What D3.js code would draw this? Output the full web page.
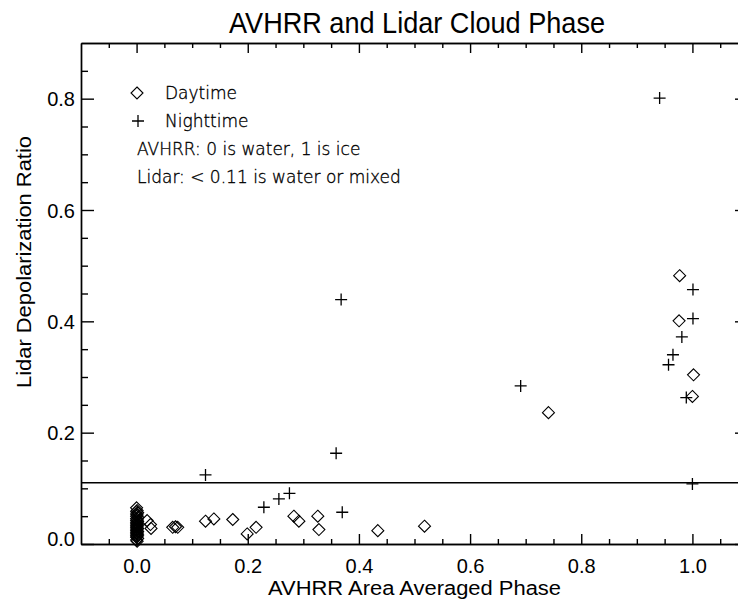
<!DOCTYPE html>
<html>
<head>
<meta charset="utf-8">
<script src="https://cdn.jsdelivr.net/npm/d3@7"></script>
<style>
  body { margin: 0; background: #fff; }
  svg { display: block; }
  .axis path, .axis line { stroke: #000; stroke-width: 1.4; }
  .axis text { font-family: "Liberation Sans", Arial, sans-serif; font-size: 20px; fill: #000; }
</style>
</head>
<body>
<svg id="chart" width="738" height="599"></svg>
<script>
// daytime points (diamonds)
var dayX = [0.977, 0.976, 1.002, 1.000, 0.741,
  0.000, 0.001, 0.000, 0.002, 0.000, 0.001, 0.000, 0.002, 0.000, 0.001,
  0.000, 0.002, 0.000, 0.001, 0.000, 0.002, 0.000, 0.001, 0.000, 0.002,
  0.000, 0.001, 0.000, 0.002, 0.000, 0.001, 0.000, 0.002, 0.000, 0.001,
  0.000, 0.002, 0.000, 0.001,
  0.019, 0.025, 0.026, 0.065, 0.070, 0.074, 0.124, 0.139, 0.173, 0.199, 0.215,
  0.283, 0.292, 0.326, 0.328, 0.434, 0.518];
var dayY = [0.482, 0.401, 0.304, 0.265, 0.236,
  0.065, 0.060, 0.058, 0.056, 0.054, 0.052, 0.050, 0.048, 0.046, 0.044,
  0.042, 0.041, 0.039, 0.037, 0.036, 0.034, 0.033, 0.031, 0.030, 0.028,
  0.027, 0.025, 0.024, 0.022, 0.021, 0.019, 0.018, 0.016, 0.015, 0.013,
  0.012, 0.010, 0.007, 0.005,
  0.042, 0.035, 0.028, 0.030, 0.031, 0.030, 0.041, 0.045, 0.044, 0.018, 0.030,
  0.050, 0.041, 0.050, 0.026, 0.024, 0.032];

// nighttime points (plus signs)
var nightX = [0.941, 0.368, 1.001, 1.001, 0.981, 0.965, 0.957, 0.989, 0.691,
  0.359, 0.124, 1.000, 0.229, 0.256, 0.275, 0.370];
var nightY = [0.801, 0.439, 0.457, 0.405, 0.372, 0.340, 0.322, 0.263, 0.284,
  0.163, 0.124, 0.108, 0.066, 0.081, 0.091, 0.057];

var lidarLimit = 0.11;

var xMajor = [0.0, 0.2, 0.4, 0.6, 0.8, 1.0];
var xMinor = [-0.05, 0.05, 0.1, 0.15, 0.25, 0.3, 0.35, 0.45, 0.5, 0.55, 0.65, 0.7, 0.75, 0.85, 0.9, 0.95, 1.05];
var yMajor = [0.0, 0.2, 0.4, 0.6, 0.8];
var yMinor = [0.05, 0.1, 0.15, 0.25, 0.3, 0.35, 0.45, 0.5, 0.55, 0.65, 0.7, 0.75, 0.85];

var legendLines = ["AVHRR: 0 is water, 1 is ice", "Lidar: < 0.11 is water or mixed"];

var svg = d3.select("#chart"),
    margin = {top: 43, left: 81},
    width = 667,
    height = 501;

var x = d3.scaleLinear().domain([-0.1, 1.1]).range([0, width]),
    y = d3.scaleLinear().domain([0, 0.9]).range([height, 0]);

var g = svg.append("g")
    .attr("transform", "translate(" + margin.left + "," + margin.top + ")");

var fmt = d3.format(".1f");

// bottom axis
g.append("g").attr("class", "axis")
    .attr("transform", "translate(0," + height + ")")
    .call(d3.axisBottom(x).tickValues(xMajor).tickSizeInner(-10).tickSizeOuter(0).tickPadding(15).tickFormat(fmt));
g.append("g").attr("class", "axis")
    .attr("transform", "translate(0," + height + ")")
    .call(d3.axisBottom(x).tickValues(xMinor).tickSizeInner(-5).tickSizeOuter(0).tickFormat(""));

// top axis
g.append("g").attr("class", "axis")
    .call(d3.axisTop(x).tickValues(xMajor).tickSizeInner(-10).tickSizeOuter(0).tickFormat(""));
g.append("g").attr("class", "axis")
    .call(d3.axisTop(x).tickValues(xMinor).tickSizeInner(-5).tickSizeOuter(0).tickFormat(""));

// left axis
var left = g.append("g").attr("class", "axis")
    .call(d3.axisLeft(y).tickValues(yMajor).tickSizeInner(-13).tickSizeOuter(0).tickPadding(6).tickFormat(fmt));
left.selectAll(".tick text").attr("dy", function(d) { return d === 0 ? "0.05em" : "0.35em"; });
g.append("g").attr("class", "axis")
    .call(d3.axisLeft(y).tickValues(yMinor).tickSizeInner(-7).tickSizeOuter(0).tickFormat(""));

// right axis (falls just outside the picture)
g.append("g").attr("class", "axis")
    .attr("transform", "translate(" + width + ",0)")
    .call(d3.axisRight(y).tickValues(yMajor).tickSizeInner(-13).tickSizeOuter(0).tickFormat(""));
g.append("g").attr("class", "axis")
    .attr("transform", "translate(" + width + ",0)")
    .call(d3.axisRight(y).tickValues(yMinor).tickSizeInner(-7).tickSizeOuter(0).tickFormat(""));

// lidar threshold line
g.append("line")
    .attr("x1", 0).attr("x2", width)
    .attr("y1", y(lidarLimit)).attr("y2", y(lidarLimit))
    .attr("stroke", "#000").attr("stroke-width", 1.4);

var diamond = "M0,-6L6,0L0,6L-6,0Z",
    plus = "M-6,0H6M0,-6V6";

g.selectAll(".day")
    .data(dayX.map(function(d, i) { return [d, dayY[i]]; }))
    .enter().append("path")
      .attr("class", "day")
      .attr("d", diamond)
      .attr("transform", function(d) { return "translate(" + x(d[0]) + "," + y(d[1]) + ")"; })
      .attr("fill", "none").attr("stroke", "#000").attr("stroke-width", 1.1);

g.selectAll(".night")
    .data(nightX.map(function(d, i) { return [d, nightY[i]]; }))
    .enter().append("path")
      .attr("class", "night")
      .attr("d", plus)
      .attr("transform", function(d) { return "translate(" + x(d[0]) + "," + y(d[1]) + ")"; })
      .attr("fill", "none").attr("stroke", "#000").attr("stroke-width", 1.3);

// title and axis titles
svg.append("text")
    .attr("x", 417).attr("y", 33)
    .attr("text-anchor", "middle")
    .attr("textLength", 376).attr("lengthAdjust", "spacingAndGlyphs")
    .style("font-family", "Liberation Sans, Arial, sans-serif").style("font-size", "30px")
    .text("AVHRR and Lidar Cloud Phase");

svg.append("text")
    .attr("x", margin.left + width / 2).attr("y", 595)
    .attr("text-anchor", "middle")
    .attr("textLength", 293).attr("lengthAdjust", "spacingAndGlyphs")
    .style("font-family", "Liberation Sans, Arial, sans-serif").style("font-size", "20px")
    .text("AVHRR Area Averaged Phase");

svg.append("text")
    .attr("transform", "translate(31,262) rotate(-90)")
    .attr("text-anchor", "middle")
    .attr("textLength", 252).attr("lengthAdjust", "spacingAndGlyphs")
    .style("font-family", "Liberation Sans, Arial, sans-serif").style("font-size", "20px")
    .text("Lidar Depolarization Ratio");

// legend
var legend = svg.append("g")
    .style("font-family", "DejaVu Sans, sans-serif").style("font-size", "17px").style("font-weight", 200)
    .style("stroke", "#000").style("stroke-width", 0.35);

legend.append("path").attr("d", diamond)
    .attr("transform", "translate(137,93)")
    .attr("fill", "none").attr("stroke", "#000").attr("stroke-width", 1.1);
legend.append("text").attr("x", 165).attr("y", 99).text("Daytime");
legend.append("path").attr("d", plus)
    .attr("transform", "translate(138,121)")
    .attr("fill", "none").attr("stroke", "#000").attr("stroke-width", 1.3);
legend.append("text").attr("x", 165).attr("y", 127).text("Nighttime");

legend.selectAll(".note")
    .data(legendLines)
    .enter().append("text")
      .attr("class", "note")
      .attr("x", 137)
      .attr("y", function(d, i) { return 155 + i * 28; })
      .text(function(d) { return d; });
</script>
</body>
</html>
